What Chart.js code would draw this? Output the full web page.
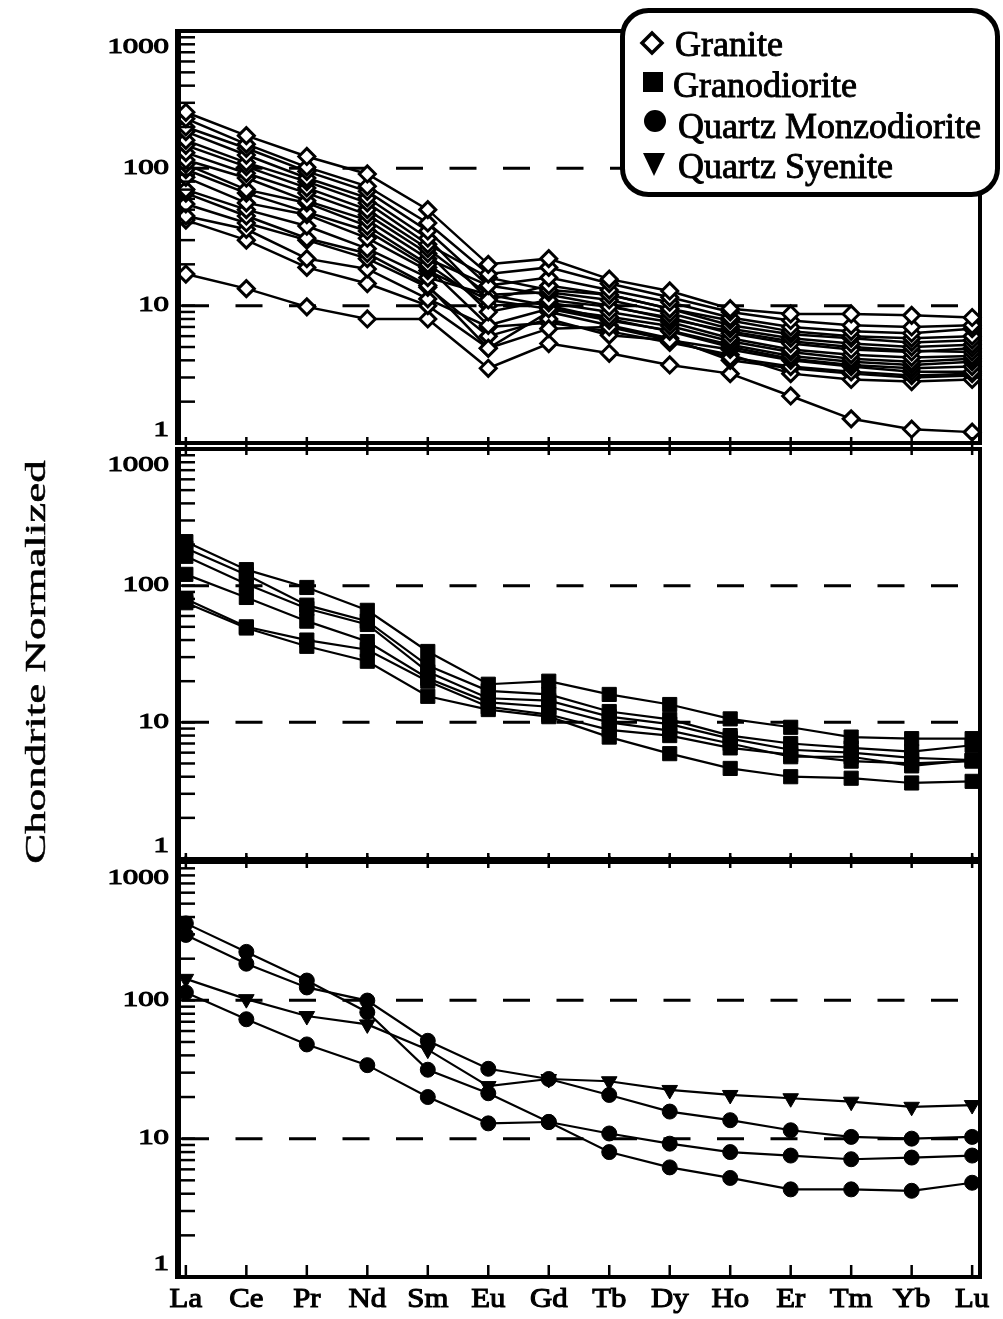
<!DOCTYPE html>
<html>
<head>
<meta charset="utf-8">
<script src="https://cdn.jsdelivr.net/npm/chart.js@4/dist/chart.umd.min.js"></script>
<style>
  html, body { margin: 0; padding: 0; background: #fff; }
  #page { position: relative; width: 1003px; height: 1319px; overflow: hidden; background: #fff; }
  canvas { position: absolute; left: 0; top: 0; }
  #overlay { position: absolute; left: 0; top: 0; }
</style>
</head>
<body>
<div id="page">
  <canvas id="p1" width="1003" height="1319"></canvas>
  <canvas id="p2" width="1003" height="1319"></canvas>
  <canvas id="p3" width="1003" height="1319"></canvas>
  <svg id="overlay" width="1003" height="1319" font-family="'Liberation Serif', 'DejaVu Serif', serif">
    <text transform="translate(45,662) rotate(-90) scale(1.5,1)" text-anchor="middle" font-size="30" fill="#000" stroke="#000" stroke-width="0.5">Chondrite Normalized</text>
    <rect x="622.5" y="10.5" width="375" height="184" rx="26" ry="26" fill="#fff" stroke="#000" stroke-width="5"></rect>
    <polygon points="652,33 662,43 652,53 642,43" fill="#fff" stroke="#000" stroke-width="3.5"></polygon>
    <rect x="643" y="72" width="20" height="20" fill="#000"></rect>
    <circle cx="655" cy="121" r="11" fill="#000"></circle>
    <polygon points="643,153 665,153 654,176" fill="#000"></polygon>
    <g font-size="36" fill="#000" stroke="#000" stroke-width="0.9">
      <text x="675" y="56">Granite</text>
      <text x="673" y="97">Granodiorite</text>
      <text x="678" y="138">Quartz Monzodiorite</text>
      <text x="678" y="178">Quartz Syenite</text>
    </g>
  </svg>
</div>
<script>
const elements = ["La", "Ce", "Pr", "Nd", "Sm", "Eu", "Gd", "Tb", "Dy", "Ho", "Er", "Tm", "Yb", "Lu"];
const yTickValues = [1, 10, 100, 1000];
const yTickLabels = ["1", "10", "100", "1000"];
const dashedLevels = [10, 100];

// granite (open diamonds)
const gr01 = [256, 173, 122, 91, 50, 20, 22, 15.6, 12.8, 9.5, 8.7, 8.7, 8.5, 8.2];
const gr02 = [230, 150, 102, 74, 40, 17, 19, 14.5, 11.5, 9, 7.8, 7.2, 7, 7.2];
const gr03 = [200, 140, 95, 68, 35, 14, 16, 13, 10.6, 8.2, 7, 6.5, 6.3, 6.8];
const gr04 = [185, 125, 85, 61, 31, 11, 14, 12, 9.5, 7.8, 6.5, 6, 5.8, 6];
const gr05 = [160, 110, 80, 56, 28, 16, 13, 12, 9.5, 7.2, 6.2, 5.8, 5.4, 5.6];
const gr06 = [147, 103, 72, 50, 26, 12, 12.5, 11, 8.8, 6.8, 5.8, 5.3, 5, 5.2];
const gr07 = [130, 92, 66, 46, 24, 9, 11, 9.8, 8.2, 6.3, 5.3, 4.8, 4.6, 4.9];
const gr08 = [115, 85, 58, 42, 22, 14, 12, 10, 8, 6.5, 5.5, 5, 4.7, 4.6];
const gr09 = [107, 70, 56, 38, 20, 10, 10.5, 9, 7.6, 5.8, 4.8, 4.4, 4.2, 4.3];
const gr10 = [98, 66, 48, 35, 19, 7.2, 9.5, 8.3, 7.1, 5.5, 4.6, 4.1, 3.9, 4.1];
const gr11 = [86, 56, 46, 31, 18, 11, 9.5, 7.8, 6.6, 5.2, 4.3, 3.9, 3.7, 3.9];
const gr12 = [70, 50, 38, 26, 16, 12, 10, 8, 6.5, 5, 4.1, 3.7, 3.5, 3.6];
const gr13 = [66, 45, 31, 24, 14, 4.9, 6.8, 7, 5.6, 4.8, 4, 3.6, 3.3, 3.3];
const gr14 = [55, 40, 30, 22, 13.6, 6, 8, 6.1, 5.6, 4.2, 3.6, 3.3, 3.1, 3.2];
const gr15 = [45, 36, 22, 18.5, 11.2, 7, 7.5, 6.5, 5.4, 4.4, 3.2, 2.9, 2.8, 2.9];
const gr16 = [42, 30, 19, 14.5, 10, 4.9, 9, 7.2, 5.8, 4, 3.5, 3.2, 3, 3.1];
const gr17 = [17, 13.3, 9.8, 8, 8, 3.5, 5.3, 4.5, 3.7, 3.2, 2.2, 1.5, 1.26, 1.2];

// granodiorite (filled squares)
const gd1 = [210, 131, 97, 66, 33, 19, 20, 16, 13.5, 10.6, 9.2, 7.8, 7.6, 7.6];
const gd2 = [188, 120, 72, 55, 26, 17, 16, 12, 10.5, 8, 7, 6.5, 6.1, 6.8];
const gd3 = [164, 103, 68, 52, 23.4, 15, 14.4, 11, 9.7, 7.6, 6.3, 6, 5.5, 5.3];
const gd4 = [121, 82, 55, 39, 21, 14, 13, 10, 8.7, 7, 5.6, 5.6, 4.8, 5.3];
const gd5 = [80, 50, 40, 34, 20, 13, 11.4, 8.8, 8, 6.5, 5.8, 5.2, 5, 5.2];
const gd6 = [75, 49, 36, 28, 15.5, 12.4, 11, 7.8, 5.9, 4.6, 4, 3.9, 3.6, 3.7];

// quartz monzodiorite (filled circles)
const qm1 = [297, 184, 124, 99.6, 51, 32, 27, 20.7, 15.7, 13.6, 11.5, 10.3, 10, 10.3];
const qm2 = [360, 224, 139, 82, 31.5, 21.3, 13.2, 10.9, 9.2, 8, 7.55, 7.1, 7.3, 7.55];
const qm3 = [114, 73, 48, 34, 20, 12.9, 13.2, 8, 6.2, 5.2, 4.3, 4.3, 4.2, 4.8];

// quartz syenite (filled down triangles)
const qs1 = [143, 102, 77, 67, 44, 24, 27, 26, 22.5, 20.7, 19.6, 18.5, 17, 17.5];

const graniteSeries = [gr01, gr02, gr03, gr04, gr05, gr06, gr07, gr08, gr09, gr10, gr11, gr12, gr13, gr14, gr15, gr16, gr17];
const granodioriteSeries = [gd1, gd2, gd3, gd4, gd5, gd6];
const monzodioriteSeries = [qm1, qm2, qm3];
const syeniteSeries = [qs1];

const markers = {
  diamond: { pointStyle: "rectRot", pointRadius: 8, pointBackgroundColor: "#fff", pointBorderWidth: 3, pointRotation: 0, borderWidth: 2.5 },
  square: { pointStyle: "rect", pointRadius: 10, pointBackgroundColor: "#000", pointBorderWidth: 1, pointRotation: 0, borderWidth: 2.2 },
  circle: { pointStyle: "circle", pointRadius: 7.5, pointBackgroundColor: "#000", pointBorderWidth: 1, pointRotation: 0, borderWidth: 2.2 },
  triangle: { pointStyle: "triangle", pointRadius: 9, pointBackgroundColor: "#000", pointBorderWidth: 1, pointRotation: 180, borderWidth: 2.2 },
};

function lineSet(values, marker) {
  return Object.assign({
    data: values.map((v, i) => ({ x: i, y: v })),
    borderColor: "#000",
    pointBorderColor: "#000",
    tension: 0,
    clip: false,
  }, marker);
}

function stretchedText(ctx, text, px, py, sx, align) {
  ctx.save();
  ctx.translate(px, py);
  ctx.scale(sx, 1);
  ctx.textAlign = align;
  ctx.fillText(text, 0, 0);
  ctx.strokeText(text, 0, 0);
  ctx.restore();
}

const panelDeco = {
  id: "panelDeco",
  beforeDatasetsDraw(chart) {
    const { ctx, chartArea: a, scales: { y } } = chart;
    ctx.save();
    ctx.strokeStyle = "#000";
    ctx.lineWidth = 3;
    ctx.setLineDash([27, 26.5]);
    dashedLevels.forEach((v) => {
      const py = y.getPixelForValue(v);
      ctx.beginPath();
      ctx.moveTo(a.left + 4, py);
      ctx.lineTo(a.right - 20, py);
      ctx.stroke();
    });
    ctx.restore();
  },
  afterDatasetsDraw(chart, args, opts) {
    const { ctx, chartArea: a, scales: { x, y } } = chart;
    ctx.save();
    ctx.strokeStyle = "#000";
    ctx.fillStyle = "#000";

    // frame
    ctx.lineWidth = 4;
    ctx.strokeRect(a.left, a.top, a.right - a.left, a.bottom - a.top);
    ctx.lineWidth = 6;
    ctx.beginPath();
    ctx.moveTo(a.left, a.top - 2);
    ctx.lineTo(a.left, a.bottom + 2);
    ctx.stroke();

    // minor ticks on the left axis, pointing inward
    ctx.lineWidth = 2.5;
    [1, 10, 100].forEach((d) => {
      for (let m = 2; m <= 10; m++) {
        const py = y.getPixelForValue(m * d);
        ctx.beginPath();
        ctx.moveTo(a.left, py);
        ctx.lineTo(a.left + 17, py);
        ctx.stroke();
      }
    });

    // category ticks
    ctx.lineWidth = 2.5;
    elements.forEach((el, i) => {
      const px = x.getPixelForValue(i);
      ctx.beginPath();
      ctx.moveTo(px, a.bottom);
      ctx.lineTo(px, a.bottom - opts.bottomTick);
      if (opts.topCross) {
        ctx.moveTo(px, a.top - 6);
        ctx.lineTo(px, a.top + 6);
      }
      ctx.stroke();
    });

    // y tick labels
    ctx.font = '22px "Liberation Serif"';
    ctx.textBaseline = "middle";
    ctx.lineWidth = 1.1;
    yTickValues.forEach((v, i) => {
      let py = y.getPixelForValue(v);
      if (v === 1000) py += 16;
      if (v === 1) py -= 13;
      stretchedText(ctx, yTickLabels[i], 169, py, 1.4, "right");
    });

    // element labels under the last panel
    if (opts.xLabels) {
      ctx.font = '28px "Liberation Serif"';
      ctx.textBaseline = "alphabetic";
      ctx.lineWidth = 1.1;
      elements.forEach((el, i) => {
        stretchedText(ctx, el, x.getPixelForValue(i), a.bottom + 30, 1.1, "center");
      });
    }
    ctx.restore();
  },
};

function makePanel(id, top, bottom, datasets, deco) {
  return new Chart(document.getElementById(id), {
    type: "line",
    data: { datasets },
    options: {
      responsive: false,
      animation: false,
      events: [],
      layout: { padding: { left: 178, right: 23, top: top, bottom: 1319 - bottom } },
      scales: {
        x: { type: "linear", min: -0.13, max: 13.13, display: false },
        y: { type: "logarithmic", min: 1, max: 1000, display: false },
      },
      plugins: {
        legend: { display: false },
        tooltip: { enabled: false },
        panelDeco: deco,
      },
    },
    plugins: [panelDeco],
  });
}

makePanel("p1", 31, 443,
  graniteSeries.map((s) => lineSet(s, markers.diamond)),
  { topCross: false, bottomTick: 6, xLabels: false });

makePanel("p2", 449, 859,
  granodioriteSeries.map((s) => lineSet(s, markers.square)),
  { topCross: true, bottomTick: 6, xLabels: false });

makePanel("p3", 862, 1277,
  monzodioriteSeries.map((s) => lineSet(s, markers.circle))
    .concat(syeniteSeries.map((s) => lineSet(s, markers.triangle))),
  { topCross: true, bottomTick: 12, xLabels: true });
</script>
</body>
</html>
